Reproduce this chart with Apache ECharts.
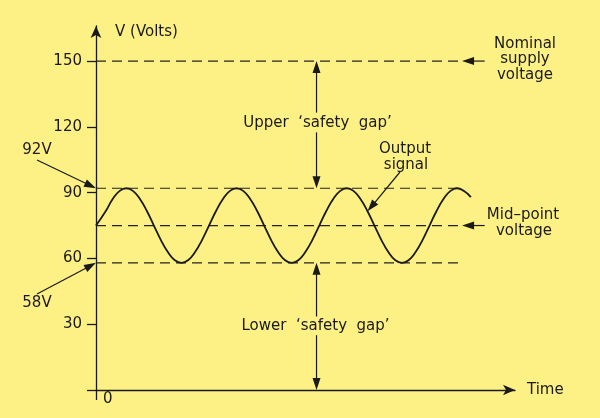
<!DOCTYPE html>
<html><head><meta charset="utf-8">
<script src="https://cdn.jsdelivr.net/npm/echarts@6/dist/echarts.min.js"></script>
<style>html,body{margin:0;padding:0;background:#FDF186;}#c{width:600px;height:418px;}</style>
</head><body><div id="c"></div>
<script>
// ---- data ----
const yTicks = [0, 30, 60, 90, 120, 150];
const yLabels = [30, 60, 90, 120, 150];
const xTicks = [0];
const timeVals = [0, 0.35, 0.6, 0.85, 1.1, 1.35, 1.6, 1.85, 2.1, 2.35, 2.6, 2.85, 3.1, 3.35, 3.6, 3.85,
  4.1, 4.35, 4.6, 4.85, 5.1, 5.35, 5.6, 5.85, 6.1, 6.35, 6.6, 6.85, 7.1, 7.35, 7.6, 7.85,
  8.1, 8.35, 8.6, 8.85, 9.1, 9.35, 9.6, 9.85, 10.1, 10.35, 10.6, 10.85, 11.1, 11.35, 11.6, 11.85,
  12.1, 12.35, 12.6, 12.85, 13.1, 13.35, 13.6];
const volts = [75, 81.5, 87, 90.7, 92, 90.7, 87, 81.5, 75, 68.5, 63, 59.3, 58, 59.3, 63, 68.5,
  75, 81.5, 87, 90.7, 92, 90.7, 87, 81.5, 75, 68.5, 63, 59.3, 58, 59.3, 63, 68.5,
  75, 81.5, 87, 90.7, 92, 90.7, 87, 81.5, 75, 68.5, 63, 59.3, 58, 59.3, 63, 68.5,
  75, 81.5, 87, 90.7, 92, 90.7, 88];
const levelNames = ['Nominal supply voltage', 'Upper peak (92V)', 'Mid-point voltage', 'Lower trough (58V)'];
const levelValues = [150, 92, 75, 58];
const levelEnds = [13.28, 13.28, 13.28, 13.18];
const gapX = 8;          // time at which the safety-gap arrows are drawn
const calloutX = 14.1;   // time where the right-hand callout arrows start
const outputTip = [9.85, 81.5];

const FONT = '"DejaVu Sans", sans-serif';
const INK = '#1a1a1a';

const chart = echarts.init(document.getElementById('c'), null, {renderer: 'canvas'});

const series = [{
  name: 'Output signal', type: 'line', data: timeVals.map((t, i) => [t, volts[i]]),
  smooth: true, symbol: 'none', silent: true, z: 5,
  lineStyle: {color: INK, width: 1.8}
}];
levelValues.forEach((v, i) => {
  series.push({
    name: levelNames[i], type: 'line', data: [[0, v], [levelEnds[i], v]],
    symbol: 'none', silent: true, z: 3,
    lineStyle: {color: '#222', width: 1.2, type: [10, 6]}
  });
});

chart.setOption({
  backgroundColor: '#FDF186',
  animation: false,
  grid: {left: 96, right: 85, top: 26, bottom: 28, containLabel: false, outerBoundsMode: 'none'},
  xAxis: {
    type: 'value', min: 0, max: 15.2,
    name: 'Time', nameLocation: 'end', nameGap: 12,
    nameTextStyle: {color: INK, fontSize: 15, fontFamily: FONT, verticalAlign: 'middle'},
    axisLine: {show: true, onZero: false, symbol: ['none', 'arrow'], symbolSize: [8, 12],
      lineStyle: {color: INK, width: 1.3}},
    axisTick: {show: true, customValues: xTicks, length: 10, inside: false, lineStyle: {color: INK, width: 1.3}},
    axisLabel: {show: true, customValues: xTicks, margin: 2, align: 'left', verticalAlign: 'top',
      padding: [0, 0, 0, 7], color: INK, fontSize: 15, fontFamily: FONT},
    splitLine: {show: false}
  },
  yAxis: {
    type: 'value', min: 0, max: 166, interval: 30,
    name: 'V (Volts)', nameLocation: 'end', nameGap: -6,
    nameTextStyle: {color: INK, fontSize: 15, fontFamily: FONT, align: 'left', verticalAlign: 'middle',
      padding: [0, 0, 0, 19]},
    axisLine: {show: true, onZero: false, symbol: ['none', 'arrow'], symbolSize: [8, 12],
      lineStyle: {color: INK, width: 1.3}},
    axisTick: {show: true, customValues: yTicks, length: 9, inside: false, lineStyle: {color: INK, width: 1.3}},
    axisLabel: {show: true, customValues: yLabels, margin: 14, color: INK, fontSize: 15, fontFamily: FONT},
    splitLine: {show: false}
  },
  series: series
});

// ---- annotations ----
const P = (x, y) => chart.convertToPixel({gridIndex: 0}, [x, y]);
function arrow(p0, tip, len = 12, w = 8) {
  const dx = tip[0] - p0[0], dy = tip[1] - p0[1];
  const d = Math.hypot(dx, dy), ux = dx / d, uy = dy / d;
  const bx = tip[0] - ux * len, by = tip[1] - uy * len;
  const px = -uy * w / 2, py = ux * w / 2;
  return [
    {type: 'line', z: 100, silent: true, shape: {x1: p0[0], y1: p0[1], x2: bx + ux, y2: by + uy},
      style: {stroke: INK, lineWidth: 1.2}},
    {type: 'polygon', z: 100, silent: true, shape: {points: [tip, [bx + px, by + py], [bx - px, by - py]]},
      style: {fill: INK}}
  ];
}
function text(str, x, y, size = 15) {
  return {type: 'text', z: 100, silent: true, x: x, y: y,
    style: {text: str, fill: INK, fontSize: size, fontFamily: FONT, align: 'center', verticalAlign: 'middle'}};
}
const g = [];
// nominal supply voltage
g.push(...arrow(P(calloutX, levelValues[0]), P(levelEnds[0], levelValues[0])));
g.push(text('Nominal', 525, 44), text('supply', 525, 59), text('voltage', 525, 75));
// mid-point voltage
g.push(...arrow(P(calloutX, levelValues[2]), P(levelEnds[2], levelValues[2])));
g.push(text('Mid–point', 523, 215), text('voltage', 524, 231));
// output signal
g.push(...arrow([400, 172], P(outputTip[0], outputTip[1])));
g.push(text('Output', 405, 149), text('signal', 406, 165));
// 92V / 58V
g.push(...arrow([37, 160], P(0, levelValues[1])));
g.push(text('92V', 37, 150));
g.push(...arrow([37, 294], P(0, levelValues[3])));
g.push(text('58V', 37, 303));
// upper safety gap
g.push(...arrow(P(gapX, 126.5), P(gapX, levelValues[0])));
g.push(...arrow(P(gapX, 117.5), P(gapX, levelValues[1])));
g.push(text('Upper  ‘safety  gap’', P(gapX, 121.7)[0] + 1, P(gapX, 121.7)[1]));
// lower safety gap
g.push(...arrow(P(gapX, 33.5), P(gapX, levelValues[3])));
g.push(...arrow(P(gapX, 25), P(gapX, 0)));
g.push(text('Lower  ‘safety  gap’', P(gapX, 29.2)[0] - 1, P(gapX, 29.2)[1]));

chart.setOption({graphic: {elements: g}});
</script>
</body></html>
